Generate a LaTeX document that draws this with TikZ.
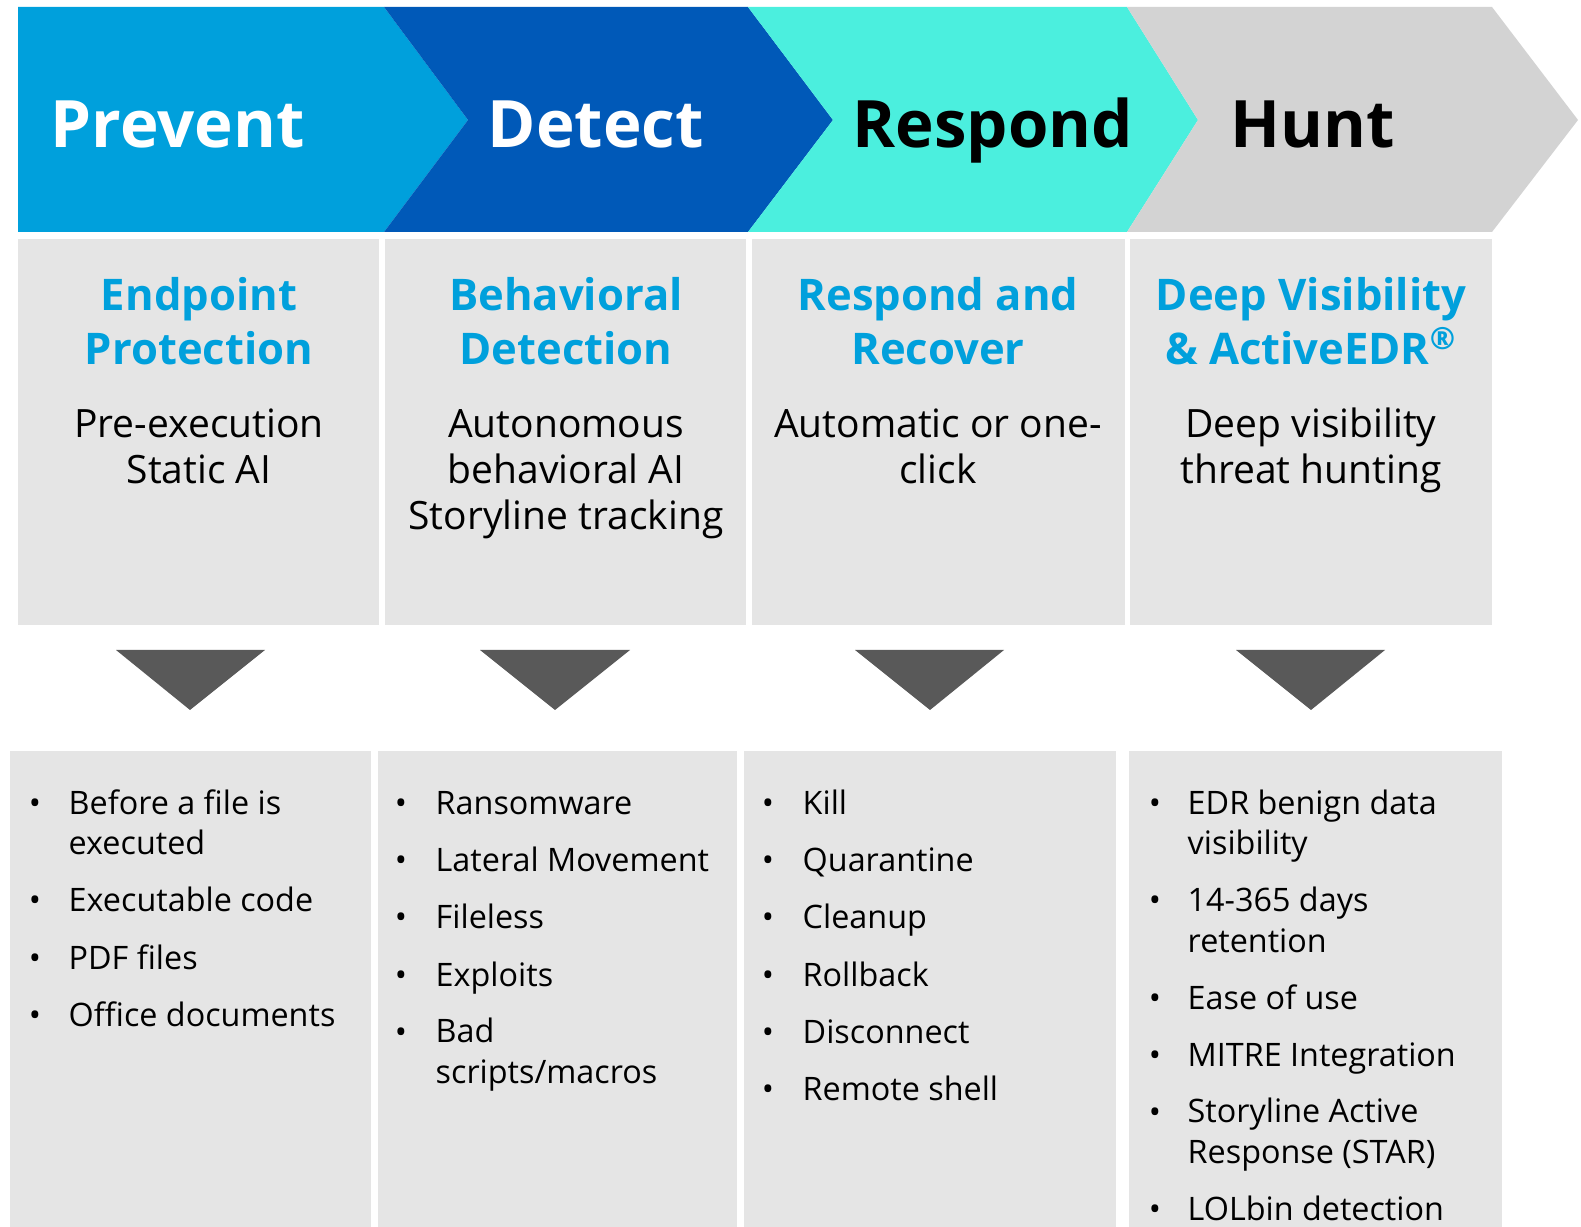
\documentclass[tikz,border=0pt]{standalone}
\usepackage{fontspec}
\setmainfont{Open Sans}
\definecolor{cPrevent}{HTML}{00A0DC}
\definecolor{cDetect}{HTML}{0059B8}
\definecolor{cRespond}{HTML}{4BEFDE}
\definecolor{cHunt}{HTML}{D3D3D3}
\definecolor{cBox}{HTML}{E5E5E5}
\definecolor{cArrow}{HTML}{595959}
\tikzset{
  phase/.style={anchor=base west,inner sep=0pt,font=\fontsize{18.6pt}{22pt}\selectfont\bfseries},
  title/.style={anchor=base,inner sep=0pt,align=center,text=cPrevent,font=\fontsize{12.4pt}{15.4pt}\selectfont\bfseries},
  blurb/.style={anchor=base,inner sep=0pt,align=center,font=\fontsize{11.1pt}{13.1pt}\selectfont},
  point/.style={anchor=base west,inner sep=0pt,align=left,font=\fontsize{9.2pt}{11.4pt}\selectfont},
  dot/.style={anchor=base,inner sep=0pt,font=\fontsize{9.2pt}{11.4pt}\selectfont}
}
\begin{document}
\begin{tikzpicture}[x=0.1mm,y=-0.1mm]
	\useasboundingbox (0,0) rectangle (1581,1227);
	% chevrons
	\fill[cPrevent] (18,7) -- (384,7) -- (468,120) -- (384,232) -- (18,232) -- cycle;
	\fill[cDetect] (384,7) -- (748,7) -- (833,120) -- (748,232) -- (384,232) -- (468,120) -- cycle;
	\fill[cRespond] (748,7) -- (1127,7) -- (1198,120) -- (1127,232) -- (748,232) -- (833,120) -- cycle;
	\fill[cHunt] (1127,7) -- (1492,7) -- (1578,120) -- (1492,232) -- (1127,232) -- (1198,120) -- cycle;
	\node[phase,white] (prevent) at (50,148) {Prevent};
	\node[phase,white] (detect) at (487,148) {Detect};
	\node[phase] (respond) at (852,148) {Respond};
	\node[phase] (hunt) at (1230,148) {Hunt};
	% upper boxes (base = last line)
	\fill[cBox] (18,239) rectangle (379,625);
	\fill[cBox] (385,239) rectangle (746,625);
	\fill[cBox] (752,239) rectangle (1125,625);
	\fill[cBox] (1130,239) rectangle (1492,625);
	\node[title] (title1) at (199,365) {Endpoint\\Protection};
	\node[blurb] (blurb1) at (199,484) {Pre-execution\\Static AI};
	\node[title] (title2) at (566,365) {Behavioral\\Detection};
	\node[blurb] (blurb2) at (566,530) {Autonomous\\behavioral AI\\Storyline tracking};
	\node[title] (title3) at (938,365) {Respond and\\Recover};
	\node[blurb] (blurb3) at (938,484) {Automatic or one-\\click};
	\node[title] (title4) at (1311,365) {Deep Visibility\\\& ActiveEDR\textsuperscript{®}};
	\node[blurb] (blurb4) at (1311,484) {Deep visibility\\threat hunting};
	% arrows down
	\fill[cArrow] (116,650) -- (265,650) -- (190,710) -- cycle;
	\fill[cArrow] (480,650) -- (630,650) -- (555,710) -- cycle;
	\fill[cArrow] (855,650) -- (1004,650) -- (930,710) -- cycle;
	\fill[cArrow] (1236,650) -- (1385,650) -- (1311,710) -- cycle;
	% lower boxes
	\fill[cBox] (10,751) rectangle (371,1227);
	\fill[cBox] (378,751) rectangle (737,1227);
	\fill[cBox] (744,751) rectangle (1116,1227);
	\fill[cBox] (1129,751) rectangle (1502,1227);
	% prevent list
	\node[dot] (d11) at (35,815) {•};
	\node[point] (p11) at (68,855) {Before a file is\\executed};
	\node[dot] (d12) at (35,912) {•};
	\node[point] (p12) at (68,912) {Executable code};
	\node[dot] (d13) at (35,969) {•};
	\node[point] (p13) at (68,969) {PDF files};
	\node[dot] (d14) at (35,1026) {•};
	\node[point] (p14) at (68,1026) {Office documents};
	% detect list
	\node[dot] (d21) at (401,815) {•};
	\node[point] (p21) at (435,815) {Ransomware};
	\node[dot] (d22) at (401,872) {•};
	\node[point] (p22) at (435,872) {Lateral Movement};
	\node[dot] (d23) at (401,929) {•};
	\node[point] (p23) at (435,929) {Fileless};
	\node[dot] (d24) at (401,986) {•};
	\node[point] (p24) at (435,986) {Exploits};
	\node[dot] (d25) at (401,1043) {•};
	\node[point] (p25) at (435,1083) {Bad\\scripts/macros};
	% respond list
	\node[dot] (d31) at (768,815) {•};
	\node[point] (p31) at (802,815) {Kill};
	\node[dot] (d32) at (768,872) {•};
	\node[point] (p32) at (802,872) {Quarantine};
	\node[dot] (d33) at (768,929) {•};
	\node[point] (p33) at (802,929) {Cleanup};
	\node[dot] (d34) at (768,986) {•};
	\node[point] (p34) at (802,986) {Rollback};
	\node[dot] (d35) at (768,1043) {•};
	\node[point] (p35) at (802,1043) {Disconnect};
	\node[dot] (d36) at (768,1100) {•};
	\node[point] (p36) at (802,1100) {Remote shell};
	% hunt list
	\node[dot] (d41) at (1155,815) {•};
	\node[point] (p41) at (1187,855) {EDR benign data\\visibility};
	\node[dot] (d42) at (1155,912) {•};
	\node[point] (p42) at (1187,952) {14-365 days\\retention};
	\node[dot] (d43) at (1155,1009) {•};
	\node[point] (p43) at (1187,1009) {Ease of use};
	\node[dot] (d44) at (1155,1066) {•};
	\node[point] (p44) at (1187,1066) {MITRE Integration};
	\node[dot] (d45) at (1155,1123) {•};
	\node[point] (p45) at (1187,1163) {Storyline Active\\Response (STAR)};
	\node[dot] (d46) at (1155,1220) {•};
	\node[point] (p46) at (1187,1220) {LOLbin detection};
\end{tikzpicture}
\end{document}
